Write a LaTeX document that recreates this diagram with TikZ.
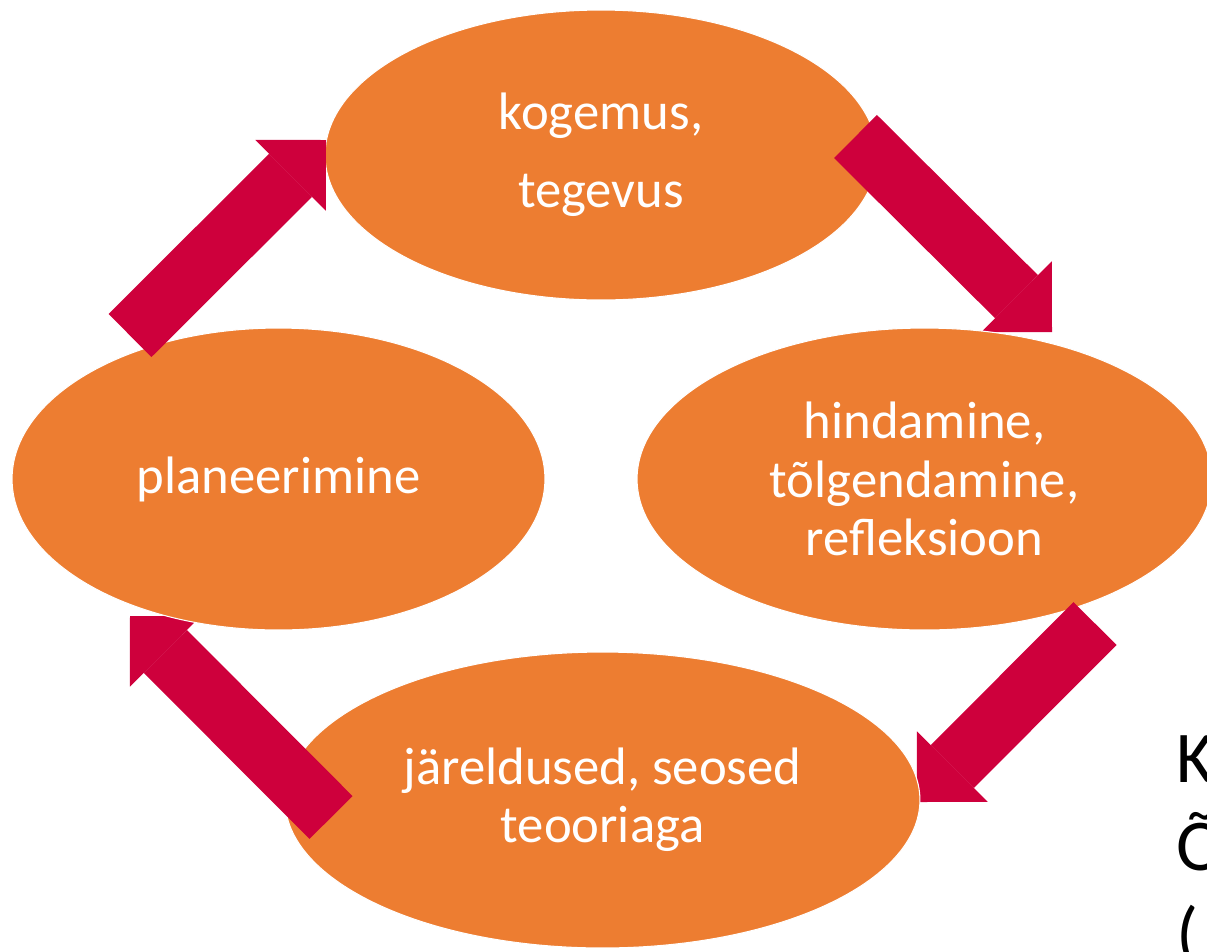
\documentclass[tikz,border=0pt]{standalone}
\usepackage{fontspec}
\setmainfont{Carlito}
\usetikzlibrary{shapes.geometric}
\usetikzlibrary{arrows.meta}
\usepackage{xcolor}

\definecolor{stageorange}{RGB}{237,125,49}
\definecolor{cyclered}{RGB}{206,0,60}

\tikzset{
stage/.style={ellipse, fill=stageorange, draw=white, line width=0.6pt, text=white, align=center, inner sep=0pt, font=\fontsize{30}{33.2}\selectfont},
cyclearrow/.style={draw=cyclered, line width=1.216cm, -{Triangle[length=1cm, width=2cm, line width=0pt]}},
cutword/.style={anchor=base west, inner sep=0pt, font=\fontsize{41.5}{50}\selectfont}
}

\begin{document}
\begin{tikzpicture}[x=0.02cm, y=-0.02cm]
\useasboundingbox (0,0) rectangle (1207,951);
\clip (0,0) rectangle (1207,951);

% arrow ends
\coordinate (tr start) at (855.5,136.5);
\coordinate (tr end) at (1052,332);
\coordinate (br start) at (1095,623.5);
\coordinate (br end) at (917,802);
\coordinate (bl start) at (331,817.5);
\coordinate (bl end) at (130,616);
\coordinate (tl start) at (130,335.5);
\coordinate (tl end) at (326,140);

% cycle, drawn in turn
\node[stage, minimum width=11.04cm, minimum height=5.8cm] (kogemus) at (601,155) {\raisebox{-0.04cm}{kogemus,}\\[0.43cm]tegevus};
\draw[cyclearrow] (tr start) -- (tr end);

\node[stage, minimum width=11.5cm, minimum height=6.04cm] (hindamine) at (924.5,479) {hindamine,\\t\~olgendamine,\\refleksioon};
\draw[cyclearrow] (br start) -- (br end);

\node[stage, minimum width=12.7cm, minimum height=5.92cm] (jareldused) at (602.5,800) {j\"areldused, seosed\\teooriaga};
\draw[cyclearrow] (bl start) -- (bl end);

\node[stage, minimum width=10.66cm, minimum height=6.04cm] (planeerimine) at (278.5,479) {planeerimine};
\draw[cyclearrow] (tl start) -- (tl end);

% text cut off at the right edge
\node[cutword] (cutk) at (1176,782) {K};
\node[cutword] (cuto) at (1176,870) {Õ};
\node[cutword] (cutp) at (1176,958) {(};

\end{tikzpicture}
\end{document}
